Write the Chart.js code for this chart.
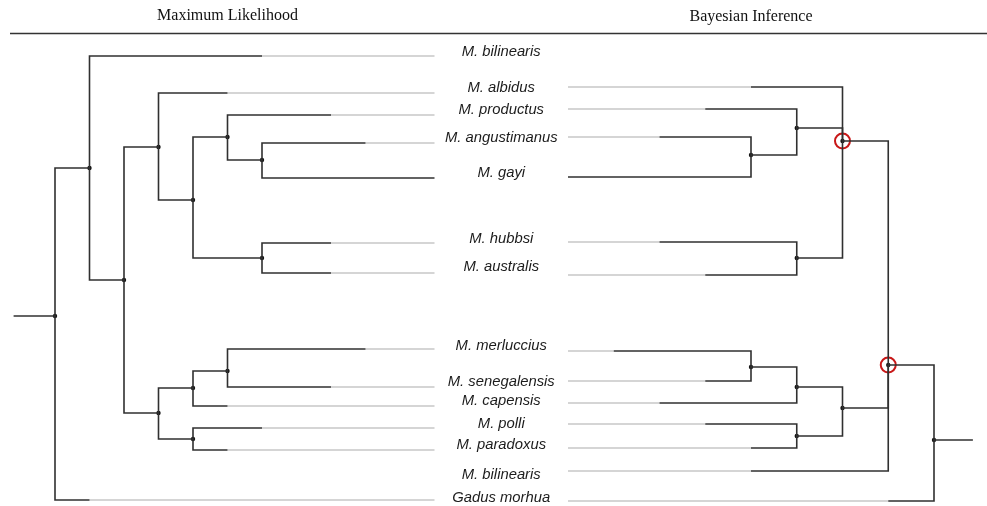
<!DOCTYPE html>
<html>
<head>
<meta charset="utf-8">
<script src="https://cdn.jsdelivr.net/npm/chart.js@4.4.0/dist/chart.umd.min.js"></script>
<style>
  html, body { margin: 0; padding: 0; background: #fff; }
  canvas { display: block; }
</style>
</head>
<body>
<canvas id="tree" width="987" height="506"></canvas>
<script>
const treeTitles = ['Maximum Likelihood', 'Bayesian Inference'];

const taxa = ['M. bilinearis', 'M. albidus', 'M. productus', 'M. angustimanus', 'M. gayi',
  'M. hubbsi', 'M. australis', 'M. merluccius', 'M. senegalensis', 'M. capensis',
  'M. polli', 'M. paradoxus', 'M. bilinearis', 'Gadus morhua'];
const taxaY = [52, 88, 110, 138, 173, 239, 267, 346, 382, 401, 424, 445, 475, 498];

// Maximum Likelihood tree (left), depth counted from the root
const mlNodeDepth  = [0, 1, 2, 3, 4, 5, 6, 6, 3, 4, 5, 4];
const mlNodeY      = [316, 168, 280, 147, 200, 137, 160, 258, 413, 388, 371, 439];
const mlNodeParent = [-1, 0, 1, 2, 3, 4, 5, 4, 2, 8, 9, 8];
const mlLeafParent = [1, 3, 5, 6, 6, 7, 7, 10, 10, 9, 11, 11, 0];
const mlLeafY      = [56, 93, 115, 143, 178, 243, 273, 349, 387, 406, 428, 450, 500];
const mlLeafBold   = [6, 5, 8, 9, 11, 8, 8, 9, 8, 5, 6, 5, 1];
const mlTipDepth = 11;
const mlRootStub = -1.2;

// Bayesian Inference tree (right)
const biNodeDepth  = [0, 1, 2, 3, 4, 3, 2, 3, 4, 3];
const biNodeY      = [440, 365, 141, 128, 155, 258, 408, 387, 367, 436];
const biNodeParent = [-1, 0, 1, 2, 3, 2, 1, 6, 7, 6];
const biLeafParent = [2, 3, 4, 4, 5, 5, 8, 8, 7, 9, 9, 1, 0];
const biLeafY      = [87, 109, 137, 177, 242, 275, 351, 381, 403, 424, 448, 471, 501];
const biLeafBold   = [4, 5, 6, 8, 6, 5, 7, 5, 6, 5, 4, 4, 1];
const biTipDepth = 8;
const biRootStub = -0.85;
const biMarkedNodes = [1, 2];

const dark = '#303030';
const grey = '#ababab';

function seg(points, axis, color, width) {
  return {
    type: 'line',
    data: points.map(p => ({ x: p[0], y: p[1] })),
    xAxisID: axis,
    borderColor: color,
    borderWidth: width,
    pointRadius: 0,
    fill: false,
    tension: 0
  };
}

function buildTree(depth, ny, parent, leafParent, leafY, leafBold, tip, stub, axis) {
  const sets = [];
  sets.push(seg([[stub, ny[0]], [0, ny[0]]], axis, dark, 1.6));
  parent.forEach((p, i) => {
    if (p < 0) return;
    sets.push(seg([[depth[p], ny[p]], [depth[p], ny[i]], [depth[i], ny[i]]], axis, dark, 1.6));
  });
  leafParent.forEach((p, i) => {
    sets.push(seg([[depth[p], ny[p]], [depth[p], leafY[i]], [leafBold[i], leafY[i]]], axis, dark, 1.6));
    if (leafBold[i] !== tip) {
      sets.push(seg([[leafBold[i], leafY[i]], [tip, leafY[i]]], axis, grey, 1));
    }
  });
  sets.push({
    type: 'scatter',
    data: depth.map((d, i) => ({ x: d, y: ny[i] })),
    xAxisID: axis,
    pointRadius: 2.2,
    pointBackgroundColor: '#111',
    pointBorderWidth: 0
  });
  return sets;
}

const datasets = [
  ...buildTree(mlNodeDepth, mlNodeY, mlNodeParent, mlLeafParent, mlLeafY, mlLeafBold, mlTipDepth, mlRootStub, 'xL'),
  ...buildTree(biNodeDepth, biNodeY, biNodeParent, biLeafParent, biLeafY, biLeafBold, biTipDepth, biRootStub, 'xR'),
  {
    type: 'scatter',
    data: biMarkedNodes.map(i => ({ x: biNodeDepth[i], y: biNodeY[i] })),
    xAxisID: 'xR',
    pointRadius: 7.5,
    pointBackgroundColor: 'rgba(0,0,0,0)',
    pointBorderColor: '#c81818',
    pointBorderWidth: 2
  }
];

const textPlugin = {
  id: 'treeText',
  afterDraw(chart) {
    const c = chart.ctx;
    const xL = chart.scales.xL, xR = chart.scales.xR, y = chart.scales.y;
    const area = chart.chartArea;
    c.save();
    // header rule
    c.strokeStyle = '#333';
    c.lineWidth = 1.6;
    c.beginPath();
    c.moveTo(area.left + 10, y.getPixelForValue(33.5));
    c.lineTo(area.right, y.getPixelForValue(33.5));
    c.stroke();
    // titles
    c.fillStyle = '#111';
    c.textAlign = 'center';
    c.textBaseline = 'middle';
    c.font = '16px "Liberation Serif", "Times New Roman", serif';
    c.fillText(treeTitles[0], xL.getPixelForValue(5), y.getPixelForValue(16));
    c.fillText(treeTitles[1], xR.getPixelForValue(4), y.getPixelForValue(17));
    // taxon labels
    c.fillStyle = '#1c1c1c';
    c.font = 'italic 14.8px "Liberation Sans", Arial, sans-serif';
    const mid = (xL.getPixelForValue(mlTipDepth) + xR.getPixelForValue(biTipDepth)) / 2;
    taxa.forEach((t, i) => {
      c.fillText(t, mid, y.getPixelForValue(taxaY[i]));
    });
    c.restore();
  }
};

new Chart(document.getElementById('tree'), {
  type: 'scatter',
  data: { datasets: datasets },
  options: {
    responsive: false,
    animation: false,
    layout: { padding: 0, autoPadding: false },
    plugins: { legend: { display: false }, tooltip: { enabled: false } },
    scales: {
      xL: { type: 'linear', axis: 'x', display: false, min: -55 / 34.5, max: (987 - 55) / 34.5 },
      xR: { type: 'linear', axis: 'x', display: false, reverse: true, min: (934 - 987) / 45.75, max: 934 / 45.75 },
      y: { type: 'linear', display: false, reverse: true, min: 0, max: 506 }
    }
  },
  plugins: [textPlugin]
});
</script>
</body>
</html>
